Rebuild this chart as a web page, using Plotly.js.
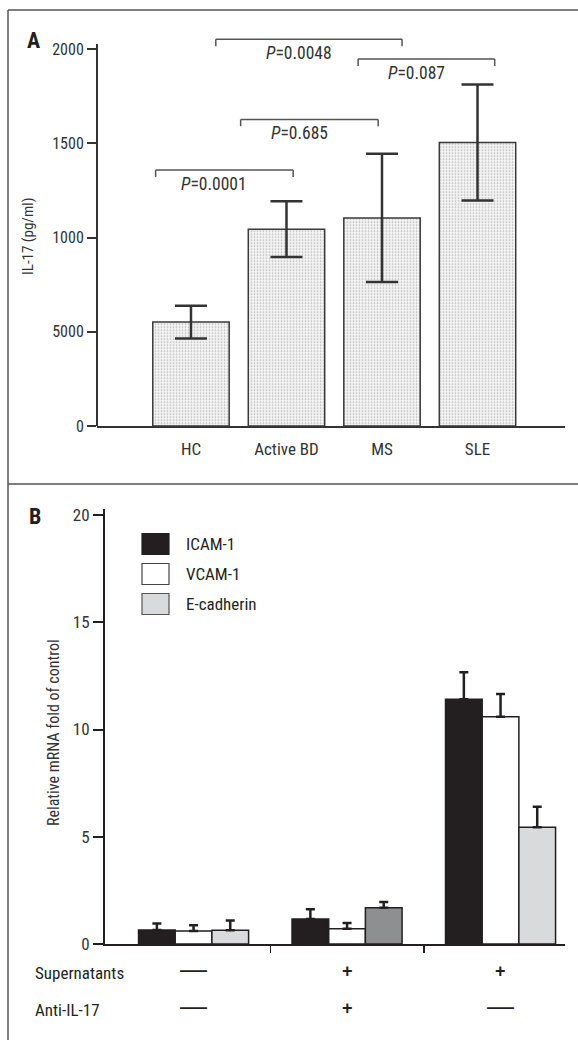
<!DOCTYPE html>
<html>
<head>
<meta charset="utf-8">
<script src="https://cdn.plot.ly/plotly-3.0.1.min.js"></script>
<style>
  html, body { margin: 0; padding: 0; background: #fff; }
  #chart { width: 578px; height: 1040px; }
</style>
</head>
<body>
<div id="chart"></div>
<script>
// ---------------- Panel A data ----------------
const catsA = ['HC', 'Active BD', 'MS', 'SLE'];
const il17Mean = [552, 1045, 1105, 1505];
const il17Err = [87, 148, 340, 308];
const yTickValsA = [0, 500, 1000, 1500, 2000];
const yTickTextA = ['0', '5000', '1000', '1500', '2000'];
const pLabels = ['0.0001', '0.685', '0.0048', '0.087'];
const bracketFrom = [-0.37, 0.52, 0.26, 1.75];
const bracketTo = [1.07, 1.96, 2.21, 3.18];
const bracketLevel = [1359, 1628, 2053, 1948];

// ---------------- Panel B data ----------------
const groupsB = ['Control', 'Supernatants + anti-IL-17', 'Supernatants'];
const seriesB = ['ICAM-1', 'VCAM-1', 'E-cadherin'];
const icam = [0.65, 1.17, 11.41];
const icamErr = [0.30, 0.45, 1.26];
const vcam = [0.61, 0.71, 10.60];
const vcamErr = [0.26, 0.27, 1.06];
const ecad = [0.64, 1.69, 5.44];
const ecadErr = [0.46, 0.27, 0.96];
const yTickValsB = [0, 5, 10, 15, 20];
const supernatants = ['\u2014', '+', '+'];
const antiIL17 = ['\u2014', '+', '\u2014'];

// ---------------- helpers (layout geometry) ----------------
const W = 578, H = 1040;
const px = x => x / W;
const py = y => (H - y) / H;
const FONT = '"Liberation Sans Narrow", "Roboto Condensed", "DejaVu Sans Condensed", "Arial Narrow", sans-serif';
const INK = '#231f20';

const xB = groupsB.map((_, i) => i);

const traces = [
  {
    type: 'bar', x: catsA, y: il17Mean, xaxis: 'x', yaxis: 'y', width: 0.8,
    marker: {
      color: '#f0f0f0',
      line: { color: '#3a3a3a', width: 1.5 },
      pattern: { shape: '.', size: 3, solidity: 0.22, fgcolor: '#b5b5b5', bgcolor: '#f3f3f3', fillmode: 'replace' }
    },
    error_y: { type: 'data', array: il17Err, visible: true, color: '#333', thickness: 2.5, width: 16 },
    hoverinfo: 'x+y', showlegend: false
  },
  {
    type: 'bar', name: seriesB[0], x: xB, y: icam, xaxis: 'x2', yaxis: 'y2',
    marker: { color: INK, line: { color: INK, width: 1.5 } },
    error_y: { type: 'data', array: icamErr, symmetric: false, arrayminus: icamErr.map(() => 0), color: INK, thickness: 2.5, width: 4.5 }
  },
  {
    type: 'bar', name: seriesB[1], x: xB, y: vcam, xaxis: 'x2', yaxis: 'y2',
    marker: { color: '#ffffff', line: { color: INK, width: 1.5 } },
    error_y: { type: 'data', array: vcamErr, symmetric: false, arrayminus: vcamErr.map(() => 0), color: INK, thickness: 2.5, width: 4.5 }
  },
  {
    type: 'bar', name: seriesB[2], x: xB, y: ecad, xaxis: 'x2', yaxis: 'y2',
    marker: { color: ['#d9dadc', '#8e8f91', '#d9dadc'], line: { color: INK, width: 1.5 } },
    error_y: { type: 'data', array: ecadErr, symmetric: false, arrayminus: ecadErr.map(() => 0), color: INK, thickness: 2.5, width: 4.5 }
  }
];

const shapes = [];
const annotations = [];

// frame
const frameLine = { color: '#555', width: 1.5 };
shapes.push({ type: 'line', xref: 'paper', yref: 'paper', x0: px(8), x1: px(W + 5), y0: py(10), y1: py(10), line: frameLine });
shapes.push({ type: 'line', xref: 'paper', yref: 'paper', x0: px(8), x1: px(8), y0: py(10), y1: py(H + 5), line: frameLine });
shapes.push({ type: 'line', xref: 'paper', yref: 'paper', x0: px(8), x1: px(W + 5), y0: py(484), y1: py(484), line: frameLine });

// panel A y spine (stops just above top tick)
shapes.push({ type: 'line', xref: 'paper', yref: 'y', x0: px(97), x1: px(97),
  y0: 0, y1: Math.max(...yTickValsA) * 1.014, line: { color: '#333', width: 2 } });

// significance brackets
const dip = 37;
bracketLevel.forEach((lv, i) => {
  const ln = { color: '#555', width: 1.5 };
  shapes.push({ type: 'line', xref: 'x', yref: 'y', x0: bracketFrom[i], x1: bracketTo[i], y0: lv, y1: lv, line: ln });
  shapes.push({ type: 'line', xref: 'x', yref: 'y', x0: bracketFrom[i], x1: bracketFrom[i], y0: lv, y1: lv - dip, line: ln });
  shapes.push({ type: 'line', xref: 'x', yref: 'y', x0: bracketTo[i], x1: bracketTo[i], y0: lv, y1: lv - dip, line: ln });
  annotations.push({ xref: 'x', yref: 'y', x: (bracketFrom[i] + bracketTo[i]) / 2, y: lv,
    xshift: -10, yshift: -14, text: '<i>P</i>=' + pLabels[i], showarrow: false,
    xanchor: 'center', yanchor: 'middle', font: { family: FONT, size: 17.5, color: '#333' } });
});

// panel letters
annotations.push({ xref: 'paper', yref: 'paper', x: px(33), y: py(41), text: '<b>A</b>', showarrow: false,
  xanchor: 'center', yanchor: 'middle', font: { family: FONT, size: 22, color: INK } });
annotations.push({ xref: 'paper', yref: 'paper', x: px(35), y: py(516), text: '<b>B</b>', showarrow: false,
  xanchor: 'center', yanchor: 'middle', font: { family: FONT, size: 22, color: INK } });

// axis titles
annotations.push({ xref: 'paper', yref: 'paper', x: px(28), y: py(237), text: 'IL-17 (pg/ml)', textangle: -90,
  showarrow: false, xanchor: 'center', yanchor: 'middle', font: { family: FONT, size: 15, color: '#333' } });
annotations.push({ xref: 'paper', yref: 'paper', x: px(54), y: py(733), text: 'Relative mRNA fold of control', textangle: -90,
  showarrow: false, xanchor: 'center', yanchor: 'middle', font: { family: FONT, size: 16, color: '#333' } });

// custom legend (panel B)
const legFill = [INK, '#ffffff', '#d9dadc'];
const legLine = [INK, '#444', '#555'];
seriesB.forEach((name, i) => {
  const yc = 544 + 30 * i;
  shapes.push({ type: 'rect', xref: 'paper', yref: 'paper', x0: px(142), x1: px(169), y0: py(yc + 10.5), y1: py(yc - 10.5),
    fillcolor: legFill[i], line: { color: legLine[i], width: 1.2 } });
  annotations.push({ xref: 'paper', yref: 'paper', x: px(184), y: py(yc), text: name, showarrow: false,
    xanchor: 'left', yanchor: 'middle', font: { family: FONT, size: 17, color: INK } });
});

// condition rows
annotations.push({ xref: 'paper', yref: 'paper', x: px(33), y: py(973), text: 'Supernatants', showarrow: false,
  xanchor: 'left', yanchor: 'middle', font: { family: FONT, size: 17, color: INK } });
annotations.push({ xref: 'paper', yref: 'paper', x: px(33), y: py(1010), text: 'Anti-IL-17', showarrow: false,
  xanchor: 'left', yanchor: 'middle', font: { family: FONT, size: 17, color: INK } });
[supernatants, antiIL17].forEach((row, r) => {
  row.forEach((s, i) => {
    const isDash = s !== '+';
    annotations.push({ xref: 'x2', yref: 'paper', x: xB[i], y: py(r === 0 ? 971 : 1008), text: isDash ? s : '<b>+</b>',
      showarrow: false, xanchor: 'center', yanchor: 'middle', yshift: isDash ? 2 : 0,
      font: { family: '"Liberation Sans", sans-serif', size: isDash ? 27 : 18, color: INK } });
  });
});

const layout = {
  width: W, height: H,
  margin: { l: 0, r: 0, t: 0, b: 0 },
  paper_bgcolor: '#ffffff', plot_bgcolor: 'rgba(0,0,0,0)',
  font: { family: FONT, color: '#333' },
  showlegend: false,
  barmode: 'group', bargap: 0.283, bargroupgap: 0,
  xaxis: {
    domain: [px(97), px(565)], anchor: 'y', type: 'category', range: [-0.984, 3.916],
    showline: true, linecolor: '#333', linewidth: 2, ticks: '', showgrid: false, zeroline: false,
    ticklabelstandoff: 7,
    tickfont: { family: FONT, size: 17, color: '#333' }, fixedrange: true
  },
  yaxis: {
    domain: [py(426), py(28.6)], anchor: 'x', range: [0, 2110],
    showline: false, showgrid: false, zeroline: false,
    ticks: 'outside', ticklen: 9, tickwidth: 2, tickcolor: '#333',
    tickmode: 'array', tickvals: yTickValsA, ticktext: yTickTextA,
    tickfont: { family: FONT, size: 16, color: '#333' }, fixedrange: true
  },
  xaxis2: {
    domain: [px(105), px(565)], anchor: 'y2', type: 'linear', range: [-0.577, 2.420],
    showline: true, linecolor: INK, linewidth: 2, showgrid: false, zeroline: false,
    ticks: 'outside', ticklen: 7, tickwidth: 1.5, tickcolor: INK,
    tickmode: 'array', tickvals: groupsB.slice(1).map((_, i) => i + 0.5), showticklabels: false, fixedrange: true
  },
  xaxis3: {
    overlaying: 'x2', anchor: 'y2', type: 'linear', range: [-0.577, 2.420],
    showline: false, showgrid: false, zeroline: false,
    ticks: 'inside', ticklen: 5, tickwidth: 1.5, tickcolor: INK,
    tickmode: 'array', tickvals: groupsB.slice(1).map((_, i) => i + 0.5), showticklabels: false, fixedrange: true
  },
  yaxis2: {
    domain: [py(944), py(509)], anchor: 'x2', range: [0, 20.28],
    showline: true, linecolor: INK, linewidth: 2, showgrid: false, zeroline: false,
    ticks: 'outside', ticklen: 10, tickwidth: 2, tickcolor: INK,
    tickmode: 'array', tickvals: yTickValsB,
    tickfont: { family: FONT, size: 17, color: '#333' }, fixedrange: true
  },
  shapes: shapes,
  annotations: annotations
};

Plotly.newPlot('chart', traces, layout, { displayModeBar: false, staticPlot: true });
</script>
</body>
</html>
